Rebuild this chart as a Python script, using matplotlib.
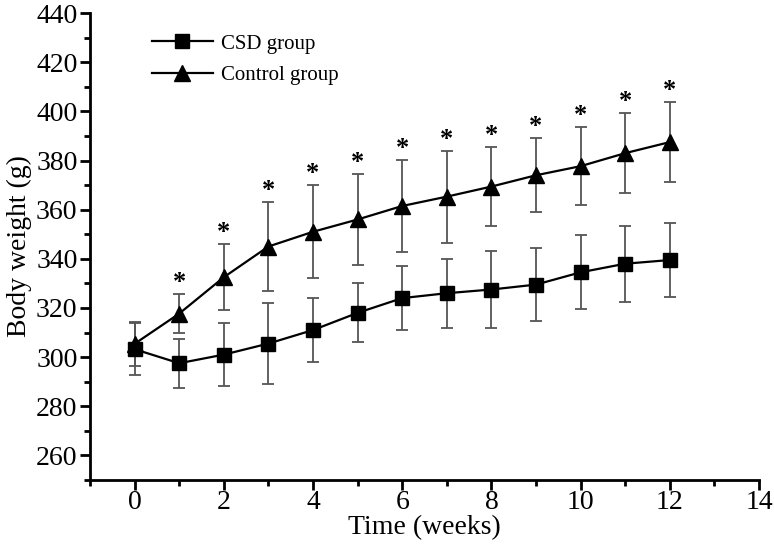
import matplotlib.pyplot as plt
import numpy as np

plt.rcParams['font.family'] = ['Liberation Serif', 'DejaVu Serif']

weeks = [0, 1, 2, 3, 4, 5, 6, 7, 8, 9, 10, 11, 12]
csd_mean = [303.2, 297.5, 301, 305.5, 311, 318, 324, 326, 327.5, 329.5, 334.5, 338, 339.5]
csd_sd = [10.5, 10, 12.8, 16.5, 13, 12, 13, 14, 15.5, 15, 15, 15.5, 15]
ctrl_mean = [305.4, 317.7, 332.5, 345, 351, 356, 361.5, 365.3, 369.4, 374, 377.7, 383, 387.5]
ctrl_sd = [9, 8, 13.5, 18, 19, 18.7, 18.8, 18.7, 16, 15, 16, 16.4, 16.3]
star_weeks = [1, 2, 3, 4, 5, 6, 7, 8, 9, 10, 11, 12]

fig = plt.figure(figsize=(7.74, 5.46), dpi=100)
ax = fig.add_axes([0.1163, 0.121, 0.8643, 0.855])

ebc = '#555555'
ax.errorbar(weeks, csd_mean, yerr=csd_sd, fmt='none', ecolor=ebc, elinewidth=1.3,
            capsize=4, capthick=1.3, zorder=2)
ax.errorbar(weeks, ctrl_mean, yerr=ctrl_sd, fmt='none', ecolor=ebc, elinewidth=1.3,
            capsize=4, capthick=1.3, zorder=2)
ax.plot(weeks, csd_mean, color='black', lw=1.6, marker='s', ms=10, label='CSD group', zorder=3)
ax.plot(weeks, ctrl_mean, color='black', lw=1.6, marker='^', ms=12, label='Control group', zorder=3)

# significance stars above control error bars
for w in star_weeks:
    top = ctrl_mean[w] + ctrl_sd[w]
    ax.annotate('*', (w, top), xytext=(0, 0), textcoords='offset points',
                ha='center', va='bottom', fontsize=19, fontweight='bold')

ax.set_xlim(-1, 14)
ax.set_ylim(250, 440)
ax.set_xticks(np.arange(0, 15, 2))
ax.set_xticks(np.arange(-1, 15, 1), minor=True)
ax.set_yticks(np.arange(260, 441, 20))
ax.set_yticks(np.arange(250, 441, 10), minor=True)
ax.tick_params(which='major', direction='out', length=7, width=2, labelsize=20, pad=2)
ax.tick_params(axis='x', which='major', pad=0)
ax.tick_params(which='minor', direction='out', length=4, width=2)
for s in ['top', 'right']:
    ax.spines[s].set_visible(False)
for s in ['left', 'bottom']:
    ax.spines[s].set_linewidth(2)

ax.set_xlabel('Time (weeks)', fontsize=20, labelpad=0)
ax.set_ylabel('Body weight (g)', fontsize=20, labelpad=3)

ax.legend(loc='upper left', bbox_to_anchor=(0.065, 0.995), frameon=False, fontsize=15,
          handlelength=2.9, handletextpad=0.4, labelspacing=0.55)

fig.savefig('out.png', dpi=100)
